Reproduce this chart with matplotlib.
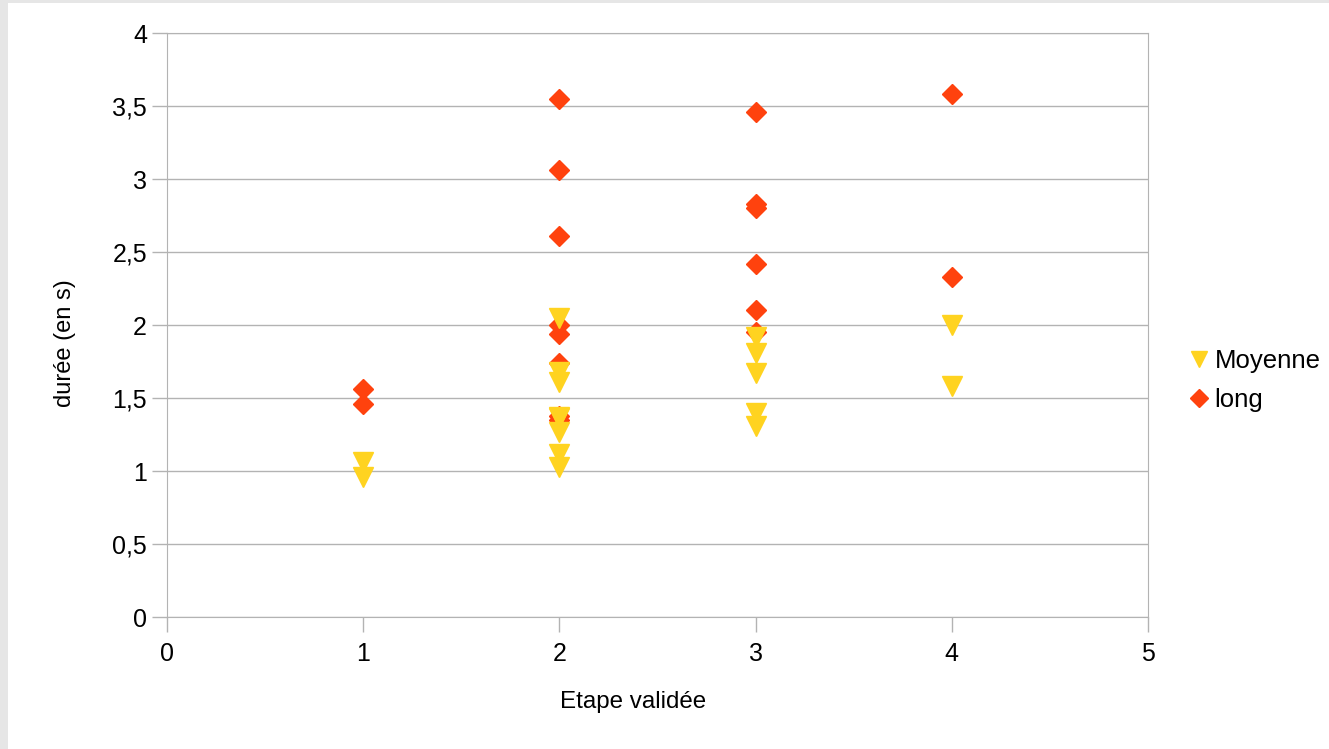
import matplotlib.pyplot as plt
from matplotlib.patches import Rectangle
from matplotlib.ticker import FuncFormatter, MultipleLocator

plt.rcParams['font.family'] = ['Liberation Sans', 'DejaVu Sans']

# Données : étape validée / durée (en s)
etape_moyenne = [1, 1, 2, 2, 2, 2, 2, 2, 2, 2, 3, 3, 3, 3, 3, 4, 4]
duree_moyenne = [1.06, 0.96, 2.05, 1.68, 1.61, 1.37, 1.27, 1.12, 1.03,
                 1.36, 1.92, 1.81, 1.67, 1.40, 1.31, 2.0, 1.58]

etape_long = [1, 1, 2, 2, 2, 2, 2, 2, 2, 2, 3, 3, 3, 3, 3, 3, 4, 4]
duree_long = [1.56, 1.46, 3.55, 3.06, 2.61, 2.0, 1.94, 1.74, 1.38, 1.35,
              3.46, 2.83, 2.80, 2.42, 2.10, 1.95, 3.58, 2.33]

jaune = '#ffd320'
rouge = '#ff420e'
gris = '#b3b3b3'

fig = plt.figure(figsize=(13.29, 7.49), dpi=100, facecolor='#e6e6e6')
fig.patches.append(Rectangle((8 / 1329, 0), 1, 1 - 3 / 749, transform=fig.transFigure,
                             facecolor='white', edgecolor='none', zorder=-10))
ax = fig.add_axes([0.1257, 0.1762, 0.7381, 0.7797])

ax.plot(etape_moyenne, duree_moyenne, 'v', color=jaune, markersize=14,
        linestyle='none', label='Moyenne', zorder=3)
ax.plot(etape_long, duree_long, 'D', color=rouge, markersize=10,
        linestyle='none', label='long', zorder=2)

ax.set_xlim(0, 5)
ax.set_ylim(0, 4)
ax.xaxis.set_major_locator(MultipleLocator(1))
ax.yaxis.set_major_locator(MultipleLocator(0.5))
ax.yaxis.set_major_formatter(FuncFormatter(lambda v, p: ('%g' % v).replace('.', ',')))

ax.grid(axis='y', color=gris, linewidth=1)
ax.set_axisbelow(True)
for s in ax.spines.values():
    s.set_color(gris)
ax.tick_params(colors=gris, labelcolor='black', labelsize=18, length=11, width=1)
ax.tick_params(axis='x', pad=7)

# titres des axes (placés comme dans l'original)
ax.set_xlabel('Etape validée', fontsize=17.4)
ax.xaxis.set_label_coords(0.475, -0.146)
ax.xaxis.label.set_va('center')
ax.set_ylabel('durée (en s)', fontsize=17)
ax.yaxis.set_label_coords(-0.104, 0.469)
ax.yaxis.label.set_va('center')

leg = fig.legend(loc='center left', bbox_to_anchor=(0.878, 0.492), frameon=False,
                 fontsize=18.5, handletextpad=0.25, labelspacing=0.55, handlelength=0.7)
leg.legend_handles[0].set_markersize(12)
leg.legend_handles[1].set_markersize(8.7)

fig.savefig('out.png', dpi=100, facecolor=fig.get_facecolor())
